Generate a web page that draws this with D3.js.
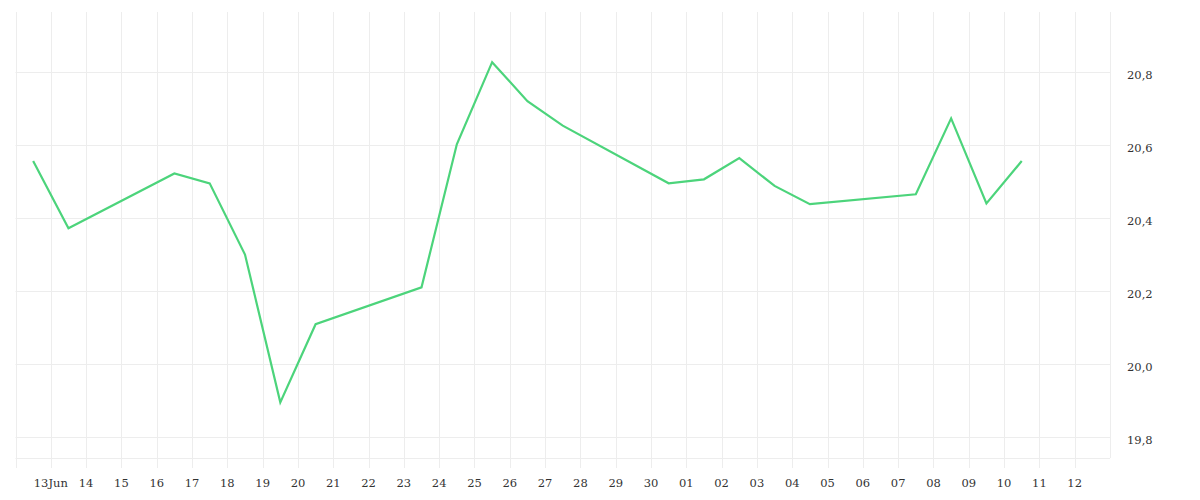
<!DOCTYPE html>
<html>
<head>
<meta charset="utf-8">
<script src="https://cdn.jsdelivr.net/npm/d3@7"></script>
<style>
  html, body { margin: 0; padding: 0; background: #fff; }
  svg { display: block; }
  text { font-family: "DejaVu Serif", serif; font-size: 11.5px; fill: #333; }
</style>
</head>
<body>
<svg id="chart" width="1200" height="500"></svg>
<script>
// ---- data ----
const dates = [
  "2025-06-12T12:00", "2025-06-13T12:00", "2025-06-16T12:00", "2025-06-17T12:00",
  "2025-06-18T12:00", "2025-06-19T12:00", "2025-06-20T12:00", "2025-06-23T12:00",
  "2025-06-24T12:00", "2025-06-25T12:00", "2025-06-26T12:00", "2025-06-27T12:00",
  "2025-06-30T12:00", "2025-07-01T12:00", "2025-07-02T12:00", "2025-07-03T12:00",
  "2025-07-04T12:00", "2025-07-07T12:00", "2025-07-08T12:00", "2025-07-09T12:00",
  "2025-07-10T12:00"
];
const values = [
  20.556, 20.372, 20.522, 20.495,
  20.300, 19.895, 20.109, 20.210,
  20.602, 20.827, 20.720, 20.653,
  20.495, 20.506, 20.564, 20.488,
  20.438, 20.465, 20.673, 20.440,
  20.556
];
const xTickDates = [
  "2025-06-13", "2025-06-14", "2025-06-15", "2025-06-16", "2025-06-17", "2025-06-18",
  "2025-06-19", "2025-06-20", "2025-06-21", "2025-06-22", "2025-06-23", "2025-06-24",
  "2025-06-25", "2025-06-26", "2025-06-27", "2025-06-28", "2025-06-29", "2025-06-30",
  "2025-07-01", "2025-07-02", "2025-07-03", "2025-07-04", "2025-07-05", "2025-07-06",
  "2025-07-07", "2025-07-08", "2025-07-09", "2025-07-10", "2025-07-11", "2025-07-12"
];
const xTickLabels = [
  "13Jun", "14", "15", "16", "17", "18", "19", "20", "21", "22", "23", "24",
  "25", "26", "27", "28", "29", "30", "01", "02", "03", "04", "05", "06",
  "07", "08", "09", "10", "11", "12"
];
const yTicks = [19.8, 20.0, 20.2, 20.4, 20.6, 20.8];
const yTickLabels = ["19,8", "20,0", "20,2", "20,4", "20,6", "20,8"];
const xDomain = ["2025-06-12", "2025-07-13"];
const yDomain = [19.7425, 20.9644];

// ---- layout ----
const plotLeft = 15.5, plotRight = 1110, plotTop = 12, plotBottom = 458;
const parse = s => new Date(s + (s.length === 10 ? "T00:00Z" : "Z"));

const x = d3.scaleUtc().domain(xDomain.map(parse)).range([plotLeft, plotRight]);
const y = d3.scaleLinear().domain(yDomain).range([plotBottom, plotTop]);

const svg = d3.select("#chart");
const grid = "#ededed";

// horizontal grid
svg.append("g").selectAll("line").data(yTicks).join("line")
  .attr("x1", plotLeft).attr("x2", plotRight)
  .attr("y1", d => Math.round(y(d)) + 0.5).attr("y2", d => Math.round(y(d)) + 0.5)
  .attr("stroke", grid).attr("stroke-width", 1);
// bottom border
svg.append("line").attr("x1", plotLeft).attr("x2", plotRight)
  .attr("y1", plotBottom + 0.5).attr("y2", plotBottom + 0.5)
  .attr("stroke", grid);

// vertical grid + ticks (all days incl. left edge)
const vLines = [xDomain[0]].concat(xTickDates).map(parse);
svg.append("g").selectAll("line").data(vLines).join("line")
  .attr("x1", d => Math.round(x(d)) + 0.5).attr("x2", d => Math.round(x(d)) + 0.5)
  .attr("y1", plotTop).attr("y2", plotBottom + 10)
  .attr("stroke", grid);
// right edge
svg.append("line")
  .attr("x1", Math.round(x(parse(xDomain[1]))) + 0.5).attr("x2", Math.round(x(parse(xDomain[1]))) + 0.5)
  .attr("y1", plotTop).attr("y2", plotBottom)
  .attr("stroke", grid);

// x labels
svg.append("g").selectAll("text").data(xTickDates).join("text")
  .attr("x", d => x(parse(d)))
  .attr("y", 487)
  .attr("text-anchor", "middle")
  .text((d, i) => xTickLabels[i]);

// y labels
svg.append("g").selectAll("text").data(yTicks).join("text")
  .attr("x", 1127)
  .attr("y", d => y(d) + 7)
  .attr("text-anchor", "start")
  .text((d, i) => yTickLabels[i]);

// line
const pts = dates.map((d, i) => ({ t: parse(d), v: values[i] }));
svg.append("path").datum(pts)
  .attr("fill", "none")
  .attr("stroke", "#4cd47b")
  .attr("stroke-width", 2.2)
  .attr("stroke-linejoin", "miter")
  .attr("d", d3.line().x(d => x(d.t)).y(d => y(d.v)));
</script>
</body>
</html>
